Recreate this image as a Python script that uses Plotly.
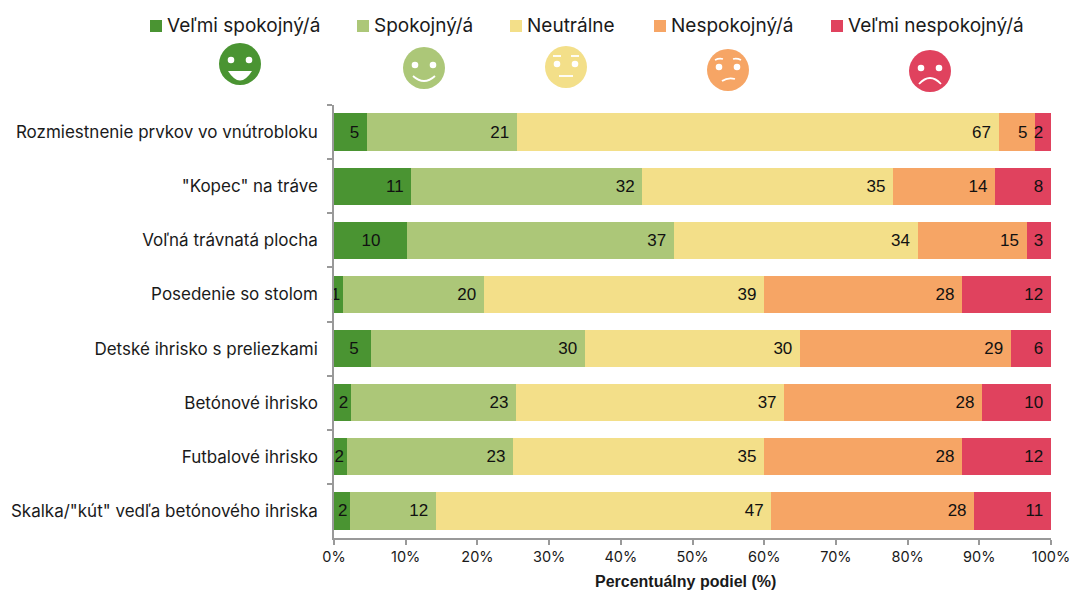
import plotly.graph_objects as go

W, H = 1072, 590
L, R, T, B = 334, 1051, 105, 538

categories = ["Rozmiestnenie prvkov vo vnútrobloku", "\"Kopec\" na tráve", "Voľná trávnatá plocha",
              "Posedenie so stolom", "Detské ihrisko s preliezkami", "Betónové ihrisko",
              "Futbalové ihrisko", "Skalka/\"kút\" vedľa betónového ihriska"]
names = ["Veľmi spokojný/á", "Spokojný/á", "Neutrálne", "Nespokojný/á", "Veľmi nespokojný/á"]
colors = ["#4A9432", "#ACC778", "#F3DF89", "#F6A565", "#E0425E"]
very_satisfied = [4.6, 10.8, 10.2, 1.3, 5.2, 2.4, 1.8, 2.3]
satisfied = [20.9, 32.2, 37.2, 19.6, 29.8, 23.0, 23.2, 11.9]
neutral = [67.2, 35.0, 34.0, 39.1, 30.0, 37.4, 35.0, 46.8]
dissatisfied = [5.1, 14.2, 15.2, 27.6, 29.4, 27.6, 27.6, 28.3]
very_dissatisfied = [2.2, 7.8, 3.4, 12.4, 5.6, 9.6, 12.4, 10.7]
labels = [[5, 11, 10, 1, 5, 2, 2, 2], [21, 32, 37, 20, 30, 23, 23, 12],
          [67, 35, 34, 39, 30, 37, 35, 47], [5, 14, 15, 28, 29, 28, 28, 28],
          [2, 8, 3, 12, 6, 10, 12, 11]]
series = [very_satisfied, satisfied, neutral, dissatisfied, very_dissatisfied]
xticks = list(range(0, 101, 10))

FONT = "Liberation Sans"
UI = "Inter"
NB = "\u00a0"
first_pad = [1, 1, 5, 0, 2, 0, 0, 0]
fig = go.Figure()
for i, (name, color, vals, txt) in enumerate(zip(names, colors, series, labels)):
    pads = first_pad if i == 0 else [1] * len(txt)
    fig.add_bar(y=categories, x=vals, name=name, orientation="h", marker=dict(color=color, line_width=0),
                text=[f"{t}{NB * p}" for t, p in zip(txt, pads)], textposition="inside", insidetextanchor="end", textangle=0,
                constraintext="none", cliponaxis=False,
                textfont=dict(family=FONT, size=17, color="#111111"), showlegend=False)

def px(x): return (x - L) / (R - L)
def py(y): return (B - y) / (B - T)

shapes, annotations = [], []
def rect(x0, y0, x1, y1, c):
    shapes.append(dict(type="rect", xref="paper", yref="paper", x0=px(x0), x1=px(x1), y0=py(y0), y1=py(y1),
                       fillcolor=c, line_width=0, layer="above"))
def circle(cx, cy, r, c):
    shapes.append(dict(type="circle", xref="paper", yref="paper", x0=px(cx-r), x1=px(cx+r), y0=py(cy-r), y1=py(cy+r),
                       fillcolor=c, line_width=0, layer="above"))
def path(points, fill=None, lw=1.8):
    a, ctrl, b = points
    s = f"M {px(a[0])},{py(a[1])} Q {px(ctrl[0])},{py(ctrl[1])} {px(b[0])},{py(b[1])}"
    if fill:
        s += " Z"
    shapes.append(dict(type="path", xref="paper", yref="paper", path=s, fillcolor=fill,
                       line=dict(color="white", width=0 if fill else lw), layer="above"))

legend_x = [150, 357, 510, 654, 831]
for x, n, c in zip(legend_x, names, colors):
    rect(x, 20, x + 12, 32, c)
    annotations.append(dict(text=n, x=px(x + 15), y=py(25.5), xref="paper", yref="paper", xanchor="left",
                            yanchor="middle", showarrow=False, font=dict(family=UI, size=19, color="#1a1a1a")))
annotations.append(dict(text="<b>Percentuálny podiel (%)</b>", x=px(685), y=py(581), xref="paper", yref="paper",
                        xanchor="center", yanchor="middle", showarrow=False,
                        font=dict(family=FONT, size=16, color="#1a1a1a")))

# decorative faces
faces = [(240, 64), (424, 68), (566, 67), (728, 70), (930, 71)]
R_F = 21
for (cx, cy), c in zip(faces, colors):
    circle(cx, cy, R_F, c)
cx, cy = faces[0]
circle(cx-9, cy-4, 3.3, "white"); circle(cx+9, cy-4, 3.3, "white")
path([(cx-12, cy+7), (cx, cy+26), (cx+12, cy+7)], fill="white")
cx, cy = faces[1]
circle(cx-9, cy-3, 3.3, "white"); circle(cx+9, cy-3, 3.3, "white")
path([(cx-11, cy+8), (cx, cy+18), (cx+11, cy+8)])
cx, cy = faces[2]
circle(cx-9, cy-3, 3.3, "white"); circle(cx+9, cy-3, 3.3, "white")
path([(cx-7, cy+9), (cx, cy+9), (cx+7, cy+9)])
path([(cx-13, cy-11), (cx-9, cy-11), (cx-5, cy-11)]); path([(cx+5, cy-11), (cx+9, cy-11), (cx+13, cy-11)])
cx, cy = faces[3]
circle(cx-9, cy-3, 3.3, "white"); circle(cx+9, cy-3, 3.3, "white")
path([(cx-6, cy+11), (cx, cy+7), (cx+7, cy+9)])
path([(cx-13, cy-10), (cx-9, cy-12), (cx-5, cy-11)]); path([(cx+5, cy-11), (cx+9, cy-12), (cx+13, cy-10)])
cx, cy = faces[4]
circle(cx-9, cy-3, 3.3, "white"); circle(cx+9, cy-3, 3.3, "white")
path([(cx-11, cy+13), (cx, cy+1), (cx+11, cy+13)])

fig.update_layout(
    width=W, height=H, autosize=False, barmode="stack", bargap=0.31, plot_bgcolor="white", paper_bgcolor="white",
    margin=dict(l=L, r=W-R, t=T, b=H-B, autoexpand=False), shapes=shapes, annotations=annotations,
    font=dict(family=FONT, color="#1a1a1a"),
    xaxis=dict(range=[0, 100.001], tickvals=xticks, ticktext=[f"{v}%" for v in xticks], ticks="outside", ticklen=5,
               tickwidth=1.5, tickcolor="#999999", showline=True, linecolor="#999999", linewidth=1.5, showgrid=False,
               zeroline=False, automargin=False, tickfont=dict(family=UI, size=14.5, color="#1a1a1a")),
    yaxis=dict(categoryorder="array", categoryarray=categories, autorange="reversed", ticks="outside", ticklen=5,
               tickson="boundaries", tickwidth=1.5, tickcolor="#999999", showline=True,
               linecolor="#999999", linewidth=1.5, showgrid=False, zeroline=False, automargin=False,
               ticklabelstandoff=11, tickfont=dict(family=UI, size=17, color="#1a1a1a")),
)
fig.write_html("out.html", config={"displayModeBar": False},
               post_script="document.body.style.margin='0';document.documentElement.style.overflow='hidden';")
